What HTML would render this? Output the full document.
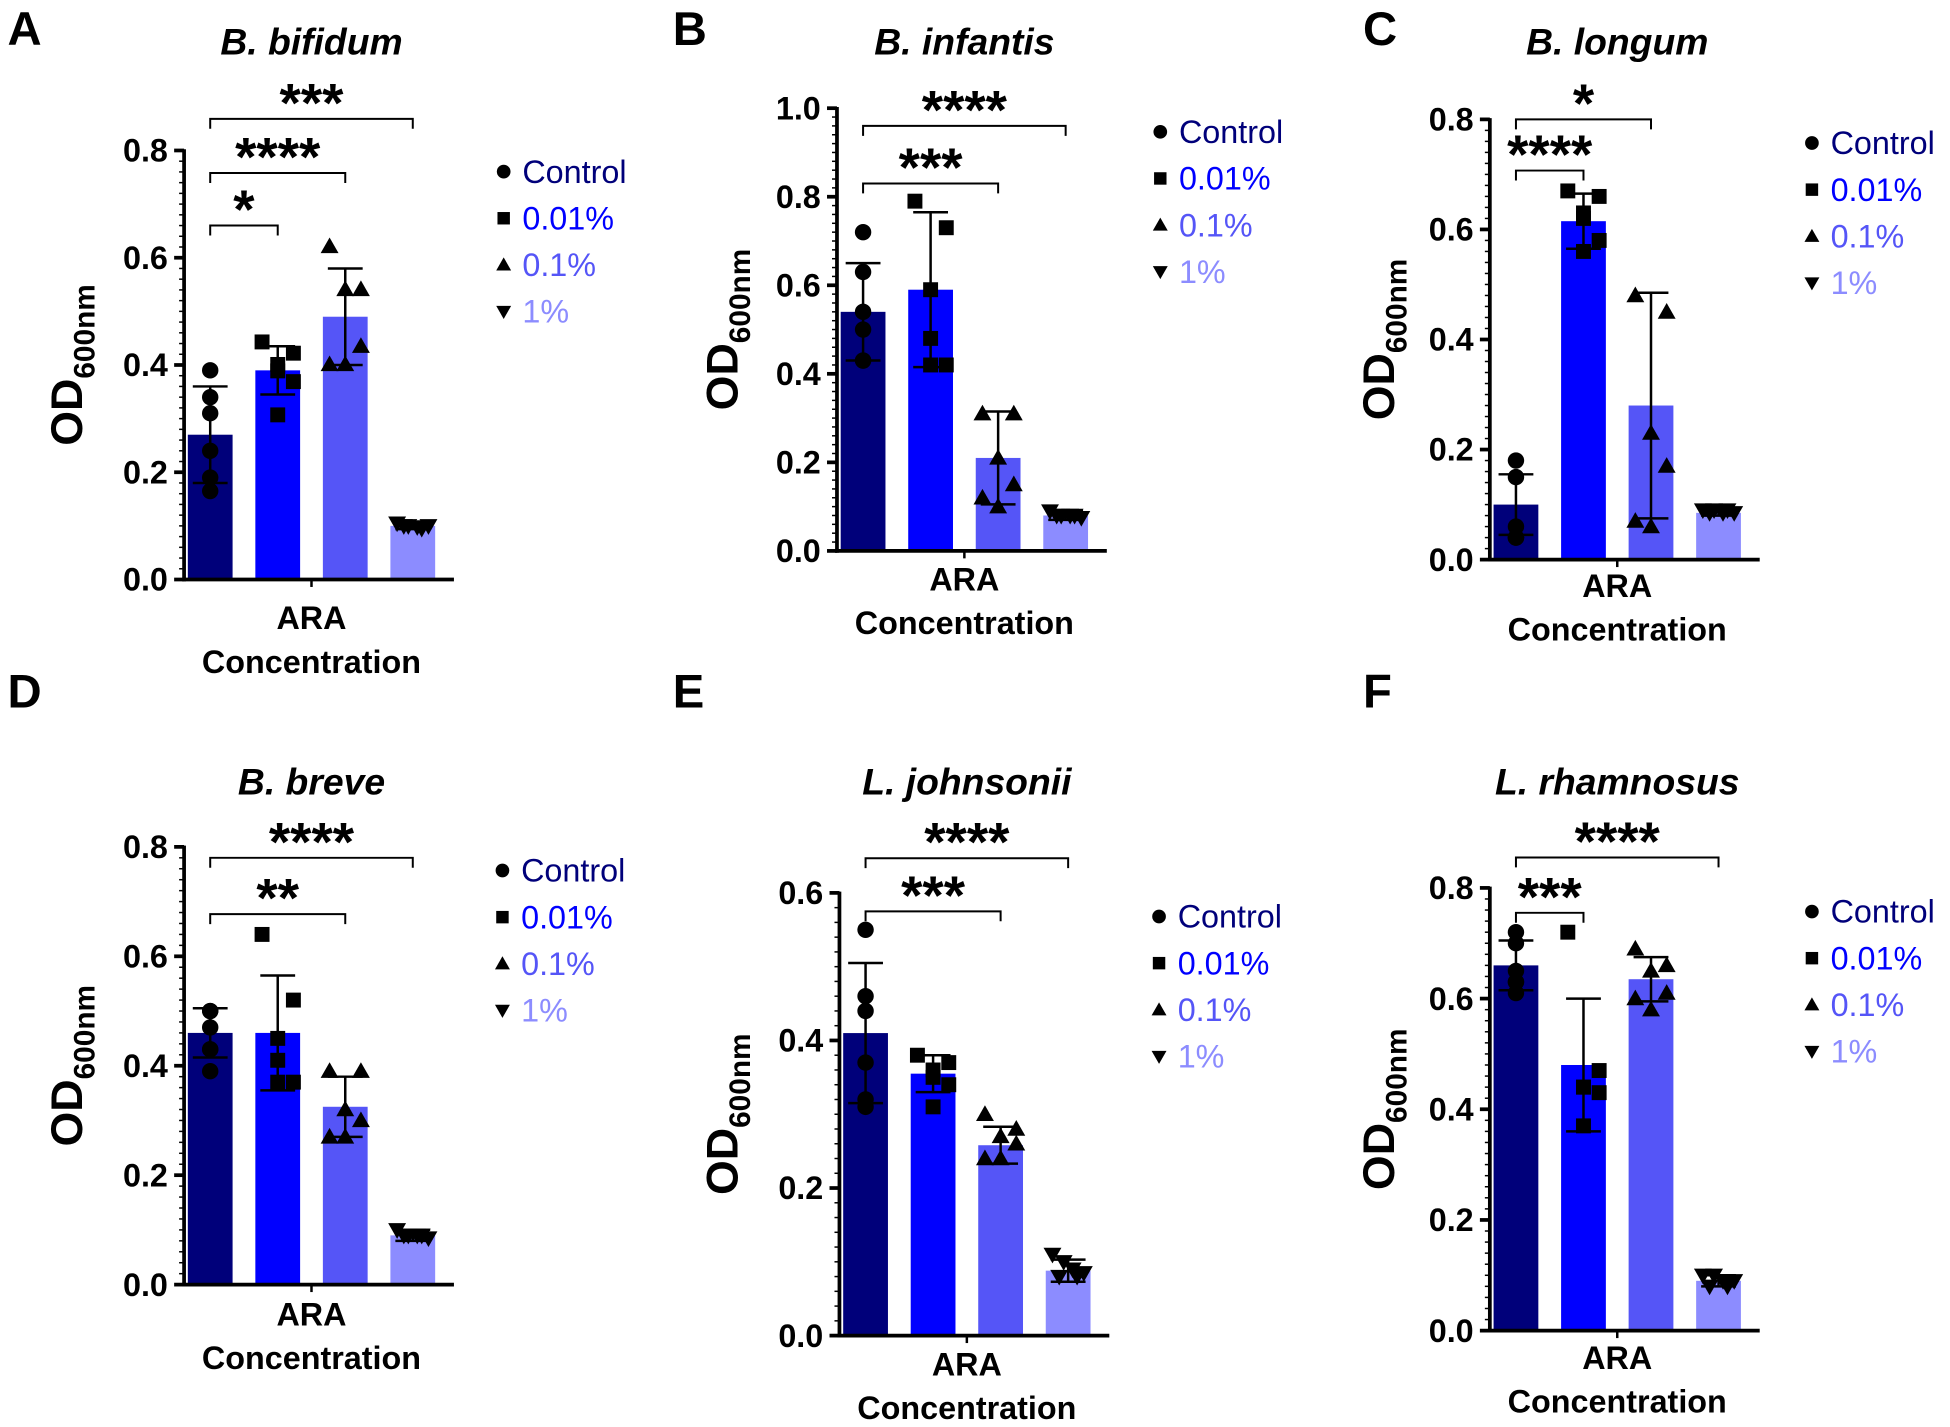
<!DOCTYPE html>
<html><head><meta charset="utf-8">
<style>
html,body{margin:0;padding:0;background:#fff;}
svg{display:block;font-family:"Liberation Sans",Arial,sans-serif;}
</style></head>
<body>
<svg id="fig" width="1950" height="1427" viewBox="0 0 1568 1147.5" xmlns="http://www.w3.org/2000/svg"></svg>
<script>
// ---- data ----
const groups = ["Control","0.01%","0.1%","1%"];
const panelTitles = ["B. bifidum","B. infantis","B. longum","B. breve","L. johnsonii","L. rhamnosus"];
const panelLetters = ["A","B","C","D","E","F"];
const yMaxes = [0.8,1.0,0.8,0.8,0.6,0.8];
const yTickLabels = [
 ["0.0","0.2","0.4","0.6","0.8"],
 ["0.0","0.2","0.4","0.6","0.8","1.0"],
 ["0.0","0.2","0.4","0.6","0.8"],
 ["0.0","0.2","0.4","0.6","0.8"],
 ["0.0","0.2","0.4","0.6"],
 ["0.0","0.2","0.4","0.6","0.8"]];
const means = [
 [0.27,0.39,0.49,0.10],
 [0.54,0.59,0.21,0.08],
 [0.10,0.615,0.28,0.085],
 [0.46,0.46,0.325,0.09],
 [0.41,0.355,0.258,0.088],
 [0.66,0.48,0.635,0.09]];
const sds = [
 [0.09,0.045,0.09,0.006],
 [0.11,0.175,0.105,0.01],
 [0.055,0.05,0.205,0.005],
 [0.045,0.105,0.055,0.01],
 [0.095,0.025,0.025,0.015],
 [0.045,0.12,0.04,0.01]];
const points = [
 [[0.39,0.34,0.31,0.24,0.19,0.165],[0.443,0.422,0.401,0.389,0.369,0.307],[0.621,0.541,0.541,0.435,0.401,0.401],[0.105,0.10,0.098,0.10,0.095,0.10]],
 [[0.72,0.63,0.54,0.50,0.43,0.43],[0.79,0.73,0.59,0.48,0.42,0.42],[0.31,0.31,0.21,0.15,0.12,0.10],[0.09,0.08,0.08,0.075,0.08,0.08]],
 [[0.18,0.15,0.06,0.04,0.04,0.04],[0.67,0.66,0.63,0.62,0.58,0.56],[0.48,0.45,0.23,0.17,0.07,0.06],[0.09,0.09,0.085,0.085,0.09,0.085]],
 [[0.50,0.50,0.47,0.43,0.43,0.39],[0.64,0.52,0.45,0.41,0.37,0.37],[0.39,0.39,0.32,0.30,0.27,0.27],[0.10,0.09,0.09,0.085,0.09,0.09]],
 [[0.55,0.46,0.44,0.37,0.32,0.31],[0.38,0.37,0.36,0.35,0.34,0.31],[0.30,0.28,0.27,0.26,0.24,0.24],[0.11,0.10,0.09,0.085,0.08,0.08]],
 [[0.72,0.70,0.65,0.63,0.63,0.61],[0.72,0.47,0.44,0.44,0.43,0.37],[0.69,0.66,0.65,0.61,0.60,0.58],[0.10,0.10,0.09,0.09,0.08,0.08]]];
// significance brackets: [fromGroup, toGroup, yValue, label]
const brackets = [
 [[0,1,0.66,"*"],[0,2,0.758,"****"],[0,3,0.859,"***"]],
 [[0,2,0.83,"***"],[0,3,0.96,"****"]],
 [[0,1,0.707,"****"],[0,2,0.80,"*"]],
 [[0,2,0.677,"**"],[0,3,0.78,"****"]],
 [[0,2,0.575,"***"],[0,3,0.647,"****"]],
 [[0,1,0.755,"***"],[0,3,0.855,"****"]]];

// ---- layout (display coordinates) ----
const layout = [
 {ax:148,y0:466,yTop:121,titleY:44,legX:405,legY:138,ylabX:66,araY:506,letX:6,letY:36},
 {ax:673,y0:443,yTop:87,titleY:44,legX:933,legY:106,ylabX:593,araY:475,letX:541,letY:36},
 {ax:1198,y0:450,yTop:96,titleY:44,legX:1457,legY:115,ylabX:1121,araY:480,letX:1096,letY:36},
 {ax:148,y0:1033,yTop:681,titleY:639,legX:404,legY:700,ylabX:66,araY:1066,letX:6,letY:569},
 {ax:675,y0:1074,yTop:718,titleY:639,legX:932,legY:737,ylabX:593,araY:1106,letX:541,letY:569},
 {ax:1198,y0:1070,yTop:714,titleY:639,legX:1457,legY:733,ylabX:1121,araY:1101,letX:1096,letY:569}];
const colors = ["#00007a","#0000ff","#5555f7","#8c8cff"];
const jitter = [[0,0,0,0,0,0],[-0.35,0.35,0,0,0.35,0],[-0.35,0.35,0,0.35,-0.35,0],[-0.35,-0.1,0.1,0.35,0.2,-0.2]];
const NS = "http://www.w3.org/2000/svg";
const svg = document.getElementById("fig");
function el(tag, attrs, parent){const e=document.createElementNS(NS,tag);for(const k in attrs)e.setAttribute(k,attrs[k]);(parent||svg).appendChild(e);return e;}

function marker(g, kind, cx, cy, s){
  let m;
  if(kind===0) m=el("circle",{cx:cx,cy:cy,r:s*0.55,fill:"#000"},g);
  else if(kind===1) m=el("rect",{x:cx-s*0.5,y:cy-s*0.5,width:s,height:s,fill:"#000"},g);
  else if(kind===2) m=el("polygon",{points:`${cx},${cy-s*0.6} ${cx-s*0.6},${cy+s*0.45} ${cx+s*0.6},${cy+s*0.45}`,fill:"#000"},g);
  else m=el("polygon",{points:`${cx},${cy+s*0.6} ${cx-s*0.6},${cy-s*0.45} ${cx+s*0.6},${cy-s*0.45}`,fill:"#000"},g);
  return m;
}

for(let p=0;p<6;p++){
  const L=layout[p];
  const g=el("g",{});
  
  
  const yMax=yMaxes[p];
  const yScale=v=>L.y0-(v/yMax)*(L.y0-L.yTop);
  const step=54.3, bw=36, off=3;
  const xC=i=>L.ax+off+bw/2+i*step;
  const axEnd=L.ax+217;
  const midX=(xC(0)+xC(3))/2;

  const letter=el("text",{x:L.letX,y:L.letY,"font-size":38,"font-weight":"bold"},g);
  letter.textContent=panelLetters[p];
  
  
  const title=el("text",{x:midX,y:L.titleY,"font-size":30,"font-weight":"bold","font-style":"italic","text-anchor":"middle"},g);
  title.textContent=panelTitles[p];
  
  

  for(let i=0;i<4;i++){
    const r=el("rect",{x:xC(i)-bw/2,y:yScale(means[p][i]),width:bw,height:L.y0-yScale(means[p][i]),fill:colors[i]},g);
    
    
  }
  for(let i=0;i<4;i++){
    points[p][i].forEach((v,k)=>{
      const m=marker(g,i,xC(i)+jitter[i][k]*bw,yScale(v),12);
      
      
    });
  }
  for(let i=0;i<4;i++){
    const m=means[p][i], s=sds[p][i], x=xC(i);
    const eg=el("g",{stroke:"#000","stroke-width":2},g);
    
    
    el("line",{x1:x,x2:x,y1:yScale(m+s),y2:yScale(m-s)},eg);
    el("line",{x1:x-14,x2:x+14,y1:yScale(m+s),y2:yScale(m+s)},eg);
    el("line",{x1:x-14,x2:x+14,y1:yScale(m-s),y2:yScale(m-s)},eg);
  }
  const axg=el("g",{stroke:"#000"},g);
  
  
  el("line",{x1:L.ax,x2:L.ax,y1:L.yTop-1,y2:L.y0+1.5,"stroke-width":3},axg);
  el("line",{x1:L.ax-1.5,x2:axEnd,y1:L.y0,y2:L.y0,"stroke-width":3},axg);
  el("line",{x1:midX,x2:midX,y1:L.y0,y2:L.y0+6,"stroke-width":2},axg);
  const nMaj=yTickLabels[p].length-1;
  for(let t=0;t<=nMaj*10;t++){
    const v=yMax*t/(nMaj*10), y=yScale(v);
    if(t%10===0) el("line",{x1:L.ax-8,x2:L.ax,y1:y,y2:y,"stroke-width":3},axg);
    else el("line",{x1:L.ax-4,x2:L.ax,y1:y,y2:y,"stroke-width":1.2},axg);
  }
  yTickLabels[p].forEach((lab,t)=>{
    const tx=el("text",{x:L.ax-13,y:yScale(yMax*t/nMaj)+9,"font-size":26,"font-weight":"bold","text-anchor":"end"},g);
    tx.textContent=lab;
    
    
  });
  const yl=el("text",{x:0,y:0,"font-size":36,"font-weight":"bold","text-anchor":"middle",transform:`translate(${L.ylabX},${(L.y0+L.yTop)/2}) rotate(-90)`},g);
  yl.innerHTML='OD<tspan font-size="24" dy="10">600nm</tspan>';
  
  
  const x1=el("text",{x:midX,y:L.araY,"font-size":26,"font-weight":"bold","text-anchor":"middle"},g);
  x1.textContent="ARA";
  
  
  const x2=el("text",{x:midX,y:L.araY+35,"font-size":26,"font-weight":"bold","text-anchor":"middle"},g);
  x2.textContent="Concentration";
  
  
  brackets[p].forEach(b=>{
    const bg=el("g",{},g);
    
    
    const y=yScale(b[2]), xa=xC(b[0]), xb=xC(b[1]);
    el("polyline",{points:`${xa},${y+8} ${xa},${y} ${xb},${y} ${xb},${y+8}`,fill:"none",stroke:"#000","stroke-width":1.6},bg);
    const st=el("text",{x:(xa+xb)/2,y:y+2,"font-size":44,"font-weight":"bold","text-anchor":"middle"},bg);
    st.textContent=b[3];
  });
  groups.forEach((name,i)=>{
    const lg=el("g",{},g);
    
    
    marker(lg,i,L.legX,L.legY+i*37.5,10);
    const t=el("text",{x:L.legX+15,y:L.legY+i*37.5+9,"font-size":26,fill:colors[i]},lg);
    t.textContent=name;
  });
}
</script>
</body></html>
